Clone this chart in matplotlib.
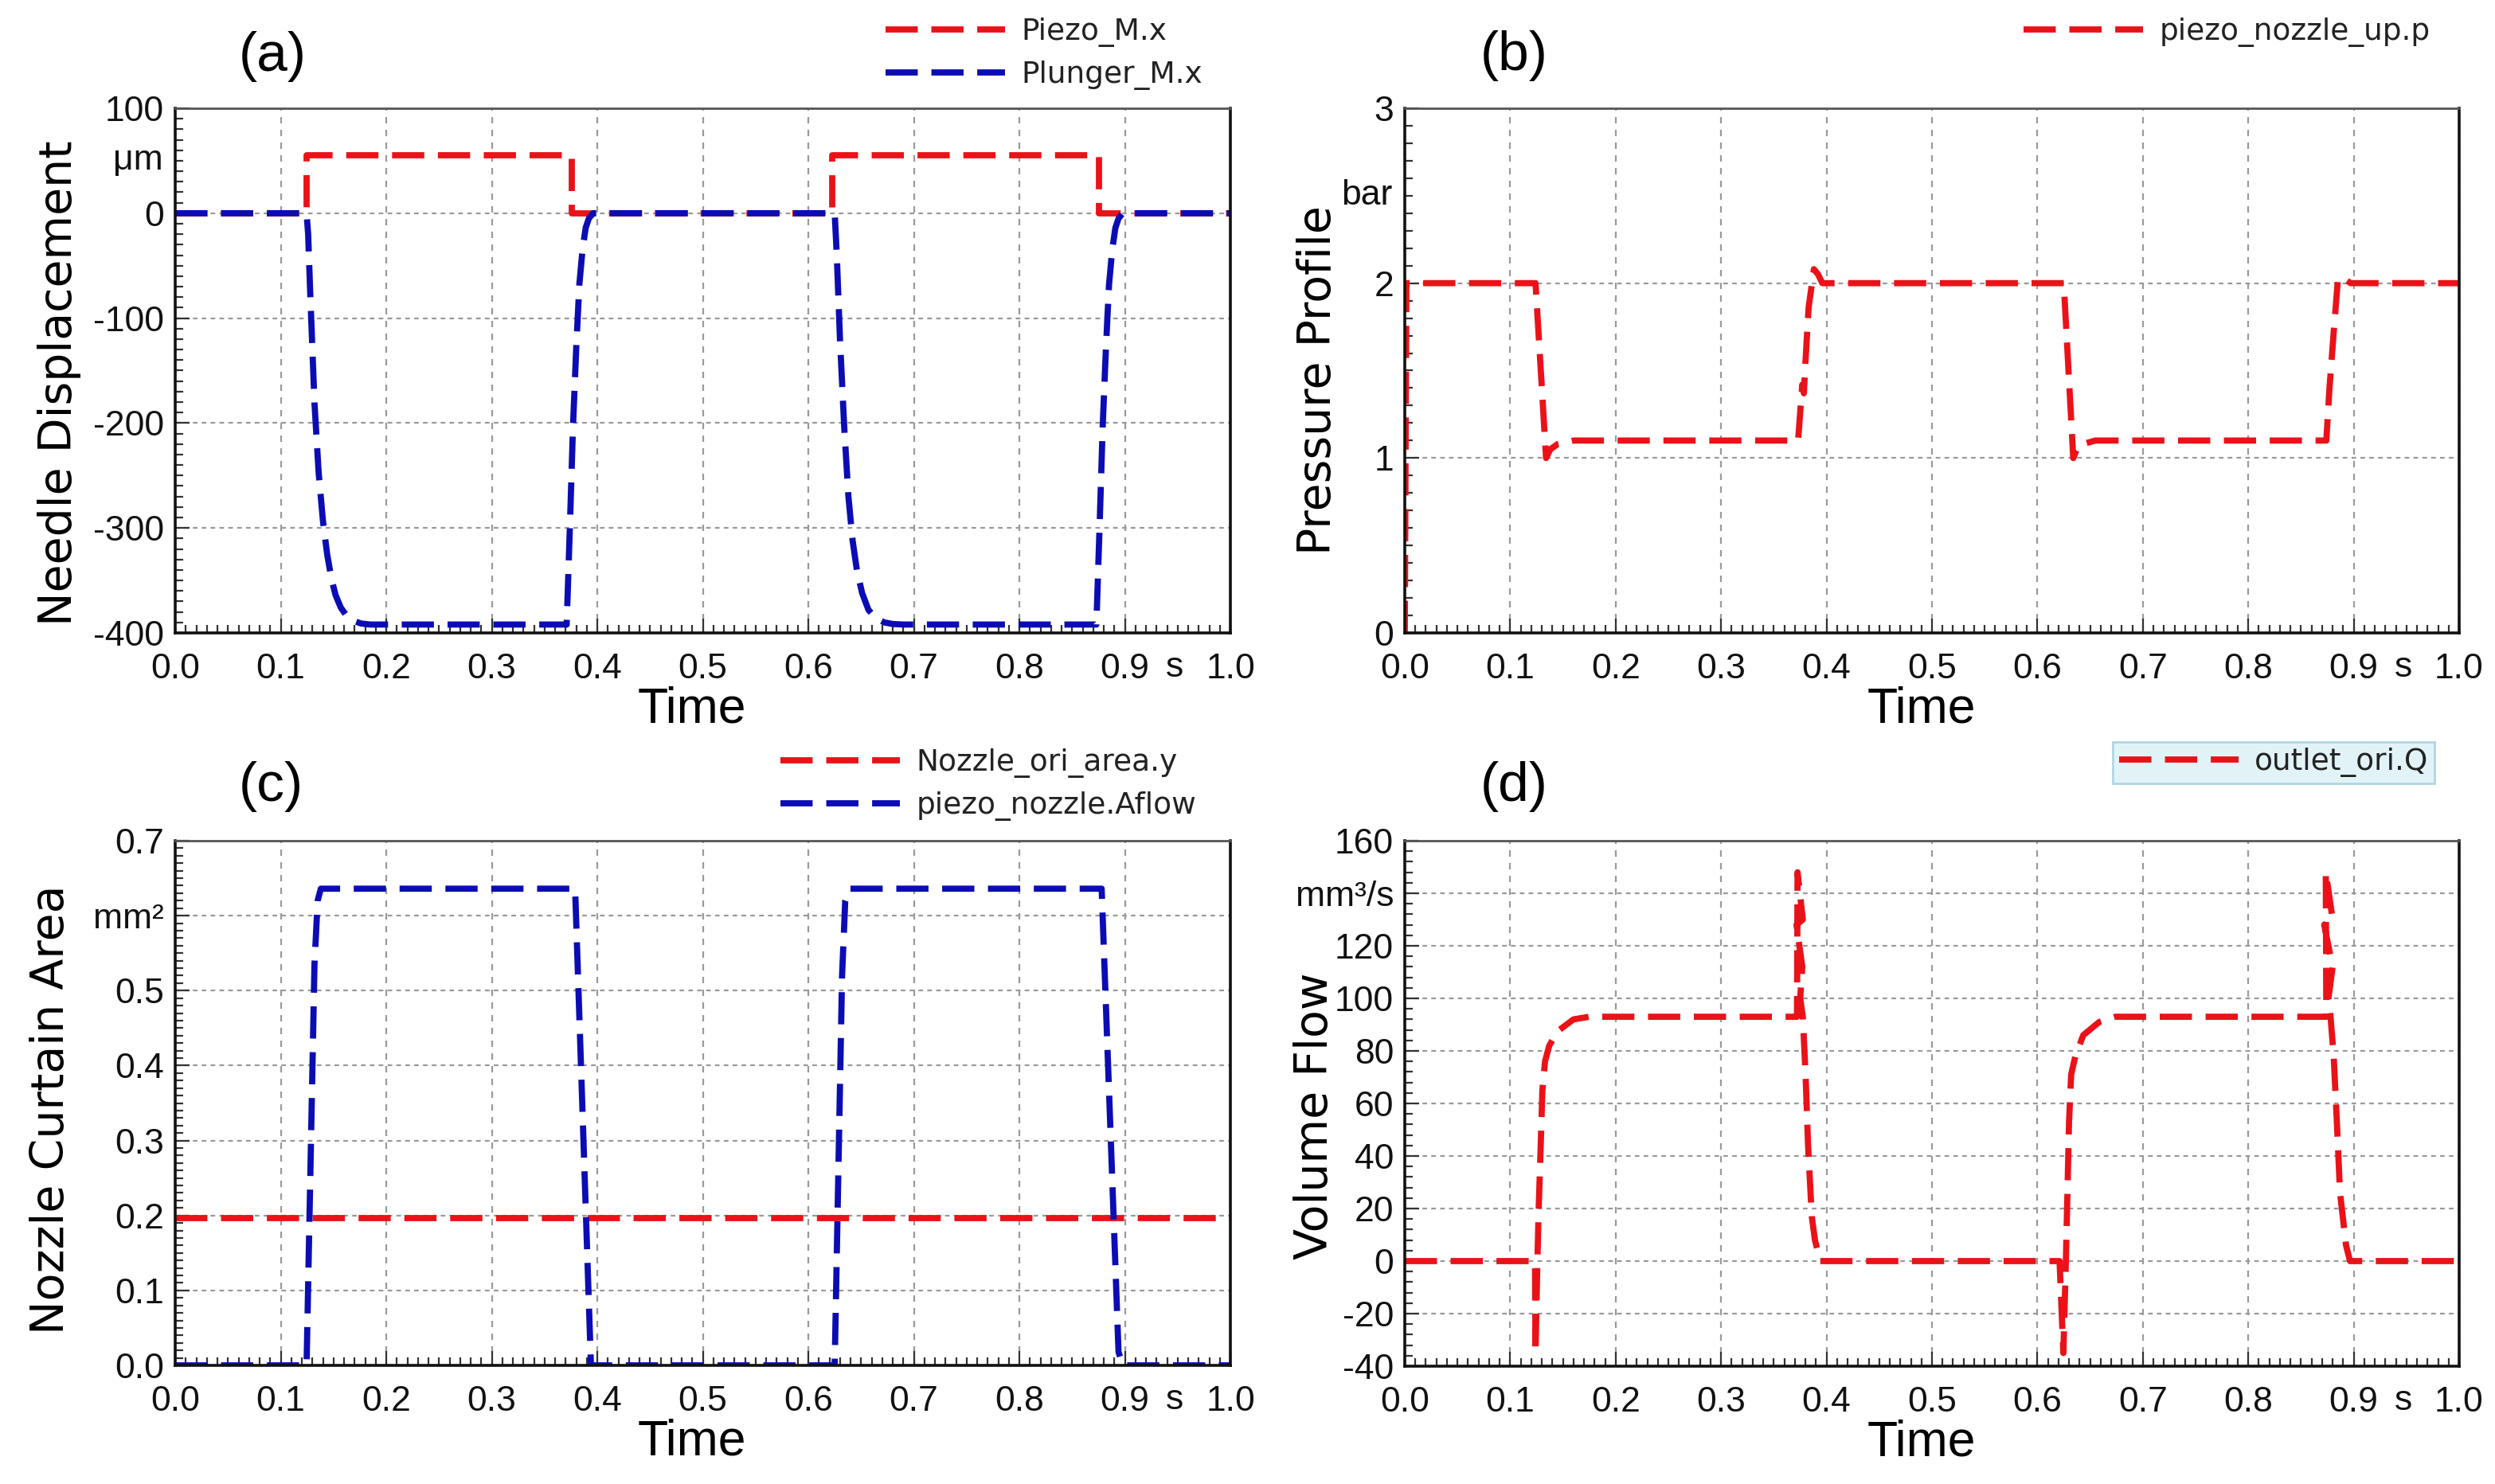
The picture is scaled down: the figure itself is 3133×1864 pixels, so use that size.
import matplotlib
matplotlib.use("Agg")
import matplotlib.pyplot as plt
from matplotlib.ticker import MultipleLocator

# ---------------- data ----------------
X_TICKS = [0.0, 0.1, 0.2, 0.3, 0.4, 0.5, 0.6, 0.7, 0.8, 0.9, 1.0]
X_TICK_LABELS = ["0.0", "0.1", "0.2", "0.3", "0.4", "0.5", "0.6", "0.7", "0.8", "0.9", "1.0"]

# (a) Needle displacement (um)
piezo_t = [0.0, 0.1245, 0.1245, 0.376, 0.376, 0.623, 0.623, 0.8755, 0.8755, 1.0]
piezo_x = [0, 0, 55, 55, 0, 0, 55, 55, 0, 0]
plunger_t = [0.0, 0.1245, 0.126, 0.128, 0.132, 0.136, 0.140, 0.144, 0.148, 0.152, 0.157,
             0.162, 0.168, 0.176, 0.185, 0.20,
             0.371, 0.374, 0.377, 0.380, 0.383, 0.386, 0.389, 0.392, 0.396,
             0.625, 0.627, 0.630, 0.634, 0.638, 0.642, 0.646, 0.651, 0.657, 0.664, 0.672,
             0.68, 0.69, 0.70,
             0.873, 0.876, 0.879, 0.882, 0.885, 0.888, 0.891, 0.894, 0.898, 1.0]
plunger_x = [0, 0, -20, -77, -181, -248, -293, -325, -348, -364, -376,
             -383, -388, -391, -392, -392,
             -392, -300, -203, -130, -68, -35, -14, -5, 0,
             0, -40, -120, -203, -270, -312, -340, -362, -378, -386, -390,
             -391.5, -392, -392,
             -392, -300, -203, -130, -68, -35, -14, -5, 0, 0]

# (b) Pressure (bar)
press_t = [0.0, 0.0015, 0.124, 0.134, 0.138, 0.145, 0.160,
           0.373, 0.3755, 0.377, 0.3785, 0.380, 0.383, 0.388, 0.392, 0.396,
           0.625, 0.634, 0.638, 0.643, 0.655,
           0.874, 0.877, 0.881, 0.885, 0.889, 0.897, 1.0]
press_p = [0.0, 2.0, 2.0, 1.0, 1.05, 1.08, 1.10,
           1.10, 1.30, 1.42, 1.37, 1.55, 1.86, 2.08, 2.05, 2.0,
           2.0, 1.0, 1.06, 1.08, 1.10,
           1.10, 1.40, 1.72, 2.02, 2.035, 2.0, 2.0]

# (c) Nozzle curtain area (mm^2)
ori_t = [0.0, 1.0]
ori_a = [0.196, 0.196]
aflow_t = [0.0, 0.1245, 0.132, 0.135, 0.138, 0.379, 0.394,
           0.625, 0.632, 0.635, 0.639, 0.878, 0.894, 0.898, 1.0]
aflow_a = [0.0, 0.0, 0.535, 0.62, 0.636, 0.636, 0.0,
           0.0, 0.52, 0.62, 0.636, 0.636, 0.018, 0.0, 0.0]

# (d) Volume flow (mm^3/s)
flow_t = [0.0, 0.1235, 0.124, 0.1255, 0.127, 0.129, 0.1305, 0.133, 0.137, 0.145, 0.160, 0.175,
          0.372, 0.3725, 0.3775, 0.3715, 0.377, 0.375, 0.3775, 0.380, 0.3825, 0.386, 0.389, 0.394,
          0.621, 0.6246, 0.627, 0.630, 0.632, 0.636, 0.6435, 0.6586, 0.674,
          0.874, 0.8735, 0.880, 0.872, 0.880, 0.876, 0.878, 0.881, 0.884, 0.887, 0.8927, 0.8965, 1.0]
flow_q = [0, 0, -35, -5, 20, 45, 65, 76, 82, 87.5, 92, 93,
          93, 148, 130, 128, 112, 100, 93, 72, 44, 17, 8, 0,
          0, -35, 0, 53, 71, 78, 86, 91, 93,
          93, 148, 130, 128, 112, 100, 93, 78, 53, 26, 6, 0, 0]

# ---------------- style ----------------
W, H, DPI = 3133, 1864, 200
RED = "#ea1218"
BLUE = "#0c0cb4"
TICK_FONT = ["Liberation Sans Narrow", "Liberation Sans", "DejaVu Sans"]
LABEL_FONT = ["DejaVu Sans"]
LW = 2.8
DASH = (5.2, 2.2)

fig = plt.figure(figsize=(W / DPI, H / DPI), dpi=DPI)
fig.patch.set_facecolor("white")


def px_axes(l, t, r, b):
    return fig.add_axes([l / W, 1 - b / H, (r - l) / W, (b - t) / H])


def style(ax, ylim, yticks, ylabels, yminor, ylabel, ylab_xy, unit=None):
    ax.set_xlim(0, 1)
    ax.set_ylim(*ylim)
    ax.set_xticks(X_TICKS, X_TICK_LABELS)
    ax.set_yticks(yticks, ylabels)
    ax.xaxis.set_minor_locator(MultipleLocator(0.01))
    ax.yaxis.set_minor_locator(MultipleLocator(yminor))
    ax.tick_params(which="both", direction="in", top=False, right=False,
                   color="#333333", width=0.8, labelsize=16,
                   labelfontfamily=TICK_FONT, labelcolor="#111111")
    ax.tick_params(which="major", length=6.5)
    ax.tick_params(which="minor", length=3.6)
    ax.tick_params(axis="x", pad=9)
    ax.tick_params(axis="y", pad=5)
    ax.xaxis.grid(True, which="major", color="#9a9a9a", lw=0.8, ls=(0, (3.6, 3.6)))
    ax.yaxis.grid(True, which="major", color="#9a9a9a", lw=0.8, ls=(0, (2.6, 2.4)))
    ax.set_axisbelow(True)
    for s in ("left", "bottom", "right"):
        ax.spines[s].set_linewidth(1.3)
        ax.spines[s].set_color("#111111")
    ax.spines["top"].set_linewidth(1.0)
    ax.spines["top"].set_color("#555555")
    # unit "s" on time axis
    ax.text(0.947, -0.066, "s", transform=ax.transAxes, ha="center", va="center",
            fontsize=16, family=TICK_FONT, color="#111111")
    if unit is not None:
        ax.text(-0.0115, unit[0], unit[1], transform=ax.get_yaxis_transform(),
                ha="right", va="center", fontsize=16, family=TICK_FONT, color="#111111")
    # axis titles
    l, b, w, h = ax.get_position().bounds
    fig.text(ylab_xy[0] / W, 1 - ylab_xy[1] / H, ylabel, rotation=90, ha="center", va="center",
             fontsize=20.5, family=LABEL_FONT, color="black")
    fig.text((l + 0.49 * w), b - 96 / H, "Time", ha="center", va="center",
             fontsize=22.5, family=["Liberation Sans", "DejaVu Sans"], color="black")


def add_legend(ax, handles, labels, x, y, framed=False):
    leg = ax.legend(handles, labels, loc="upper left", bbox_to_anchor=(x / W, 1 - y / H),
                    bbox_transform=fig.transFigure, frameon=framed, borderpad=0.2 if framed else 0,
                    borderaxespad=0, handlelength=4.0, handletextpad=0.55, labelspacing=0.45,
                    prop={"family": "DejaVu Sans", "size": 13.5}, fancybox=False)
    for t in leg.get_texts():
        t.set_color("#222222")
    if framed:
        fr = leg.get_frame()
        fr.set_facecolor("#e2f3f8")
        fr.set_edgecolor("#b0d6e4")
        fr.set_alpha(1)
        fr.set_linewidth(1.0)
    return leg


def dline(ax, x, y, color, label):
    ln, = ax.plot(x, y, color=color, lw=LW, dashes=DASH, dash_capstyle="butt",
                  solid_joinstyle="miter", label=label)
    return ln


# (a)
axA = px_axes(220, 136, 1545, 795)
l1 = dline(axA, piezo_t, piezo_x, RED, "Piezo_M.x")
l2 = dline(axA, plunger_t, plunger_x, BLUE, "Plunger_M.x")
style(axA, (-400, 100), [-400, -300, -200, -100, 0, 100],
      ["-400", "-300", "-200", "-100", "0", "100"], 10,
      "Needle Displacement", (75, 481), unit=(50, "μm"))
add_legend(axA, [l1, l2], ["Piezo_M.x", "Plunger_M.x"], 1112, 22)

# (b)
axB = px_axes(1764, 136, 3088, 795)
l3 = dline(axB, press_t, press_p, RED, "piezo_nozzle_up.p")
style(axB, (0, 3), [0, 1, 2, 3], ["0", "1", "2", "3"], 0.1,
      "Pressure Profile", (1656, 478), unit=(2.5, "bar"))
add_legend(axB, [l3], ["piezo_nozzle_up.p"], 2541, 22)

# (c)
axC = px_axes(220, 1056, 1545, 1715)
l4 = dline(axC, ori_t, ori_a, RED, "Nozzle_ori_area.y")
l5 = dline(axC, aflow_t, aflow_a, BLUE, "piezo_nozzle.Aflow")
style(axC, (0, 0.7), [0.0, 0.1, 0.2, 0.3, 0.4, 0.5, 0.6, 0.7],
      ["0.0", "0.1", "0.2", "0.3", "0.4", "0.5", "mm²", "0.7"], 0.01,
      "Nozzle Curtain Area", (65, 1394))
add_legend(axC, [l4, l5], ["Nozzle_ori_area.y", "piezo_nozzle.Aflow"], 980, 940)

# (d)
axD = px_axes(1764, 1056, 3088, 1716)
l6 = dline(axD, flow_t, flow_q, RED, "outlet_ori.Q")
style(axD, (-40, 160), [-40, -20, 0, 20, 40, 60, 80, 100, 120, 140, 160],
      ["-40", "-20", "0", "20", "40", "60", "80", "100", "120", "mm³/s", "160"], 4,
      "Volume Flow", (1651, 1402))
add_legend(axD, [l6], ["outlet_ori.Q"], 2653, 932, framed=True)

# panel letters
for txt, (x, y) in [("(a)", (342, 71)), ("(b)", (1901, 70)), ("(c)", (340, 988)), ("(d)", (1901, 988))]:
    fig.text(x / W, 1 - y / H, txt, ha="center", va="center", fontsize=25,
             family=["Liberation Sans Narrow", "Liberation Sans", "DejaVu Sans"], color="black")

fig.savefig("out.png", dpi=DPI, facecolor="white")
